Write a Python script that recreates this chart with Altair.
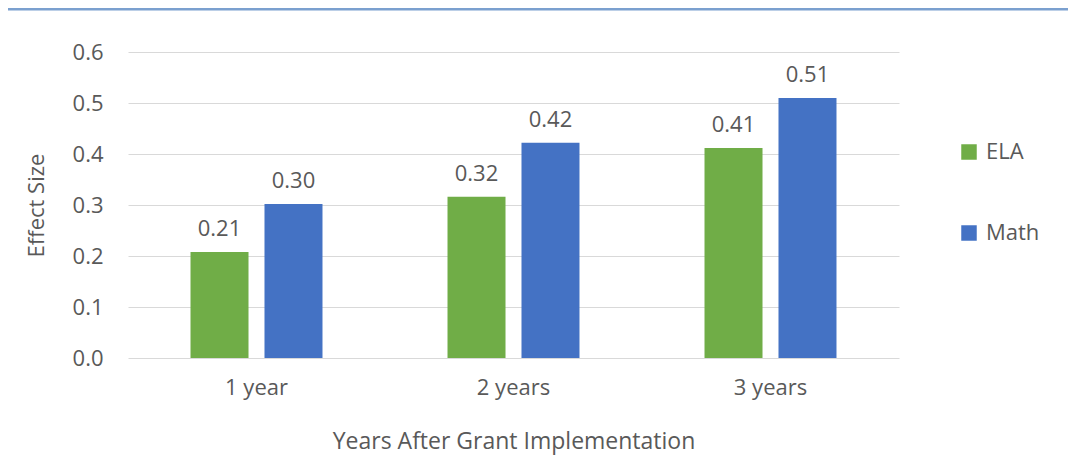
import altair as alt
import pandas as pd

years = ["1 year", "2 years", "3 years"]
subjects = ["ELA", "Math"]
ela = [0.208, 0.316, 0.412]
math = [0.302, 0.422, 0.510]
y_ticks = [0.0, 0.1, 0.2, 0.3, 0.4, 0.5, 0.6]

rows = []
for i, yr in enumerate(years):
    rows.append({"year": yr, "subject": "ELA", "value": ela[i]})
    rows.append({"year": yr, "subject": "Math", "value": math[i]})
df = pd.DataFrame(rows)

FONT = "Open Sans"
GRAY = "#595959"
FS = 22

x_enc = alt.X("year:N", sort=years, title="Years After Grant Implementation",
              scale=alt.Scale(paddingInner=0, paddingOuter=0),
              axis=alt.Axis(labelAngle=0, labelFontSize=FS, labelColor=GRAY, labelPadding=19,
                            titleFontSize=23, titleColor=GRAY, titleFontWeight="normal",
                            titlePadding=32, domain=False, ticks=False, labelFont=FONT, titleFont=FONT))
xoff = alt.XOffset("subject:N", sort=subjects,
                   scale=alt.Scale(paddingInner=0.216, paddingOuter=0.845))

base = alt.Chart(df)

bars = base.mark_bar().encode(
    x=x_enc,
    xOffset=xoff,
    y=alt.Y("value:Q", title="Effect Size",
            scale=alt.Scale(domain=[0, 0.6], nice=False),
            axis=alt.Axis(values=y_ticks, format=".1f", labelFontSize=FS, labelColor=GRAY,
                          labelPadding=25, titleFontSize=FS, titleColor=GRAY,
                          titleFontWeight="normal", titlePadding=24, domain=False, ticks=False,
                          gridColor="#D9D9D9", gridWidth=1.2, labelFont=FONT, titleFont=FONT)),
    color=alt.Color("subject:N", sort=subjects,
                    scale=alt.Scale(domain=subjects, range=["#70AD47", "#4472C4"]),
                    legend=alt.Legend(title=None, orient="none", legendX=830, legendY=89,
                                      symbolType="square", symbolSize=240, symbolStrokeWidth=0,
                                      labelFontSize=FS, labelColor=GRAY, labelFont=FONT,
                                      rowPadding=59, labelOffset=6)),
)

labels = base.mark_text(baseline="bottom", dy=-11, fontSize=FS, color=GRAY, font=FONT).encode(
    x=alt.X("year:N", sort=years),
    xOffset=xoff,
    y=alt.Y("value:Q"),
    text=alt.Text("value:Q", format=".2f"),
)

frame = alt.Chart(pd.DataFrame({"k": [0]})).mark_rule(color="#7BA0CF", strokeWidth=3).encode(
    x=alt.value(-130), x2=alt.value(960), y=alt.value(-43)
)

chart = alt.layer(bars, labels, frame).properties(
    width=771, height=306,
    padding={"left": 120, "top": 44, "right": 169, "bottom": 100},
    autosize=alt.AutoSizeParams(type="none"),
    background="white",
).configure_view(stroke=None, strokeWidth=0)

chart.save("out.html", embed_options={"renderer": "svg", "actions": False})
